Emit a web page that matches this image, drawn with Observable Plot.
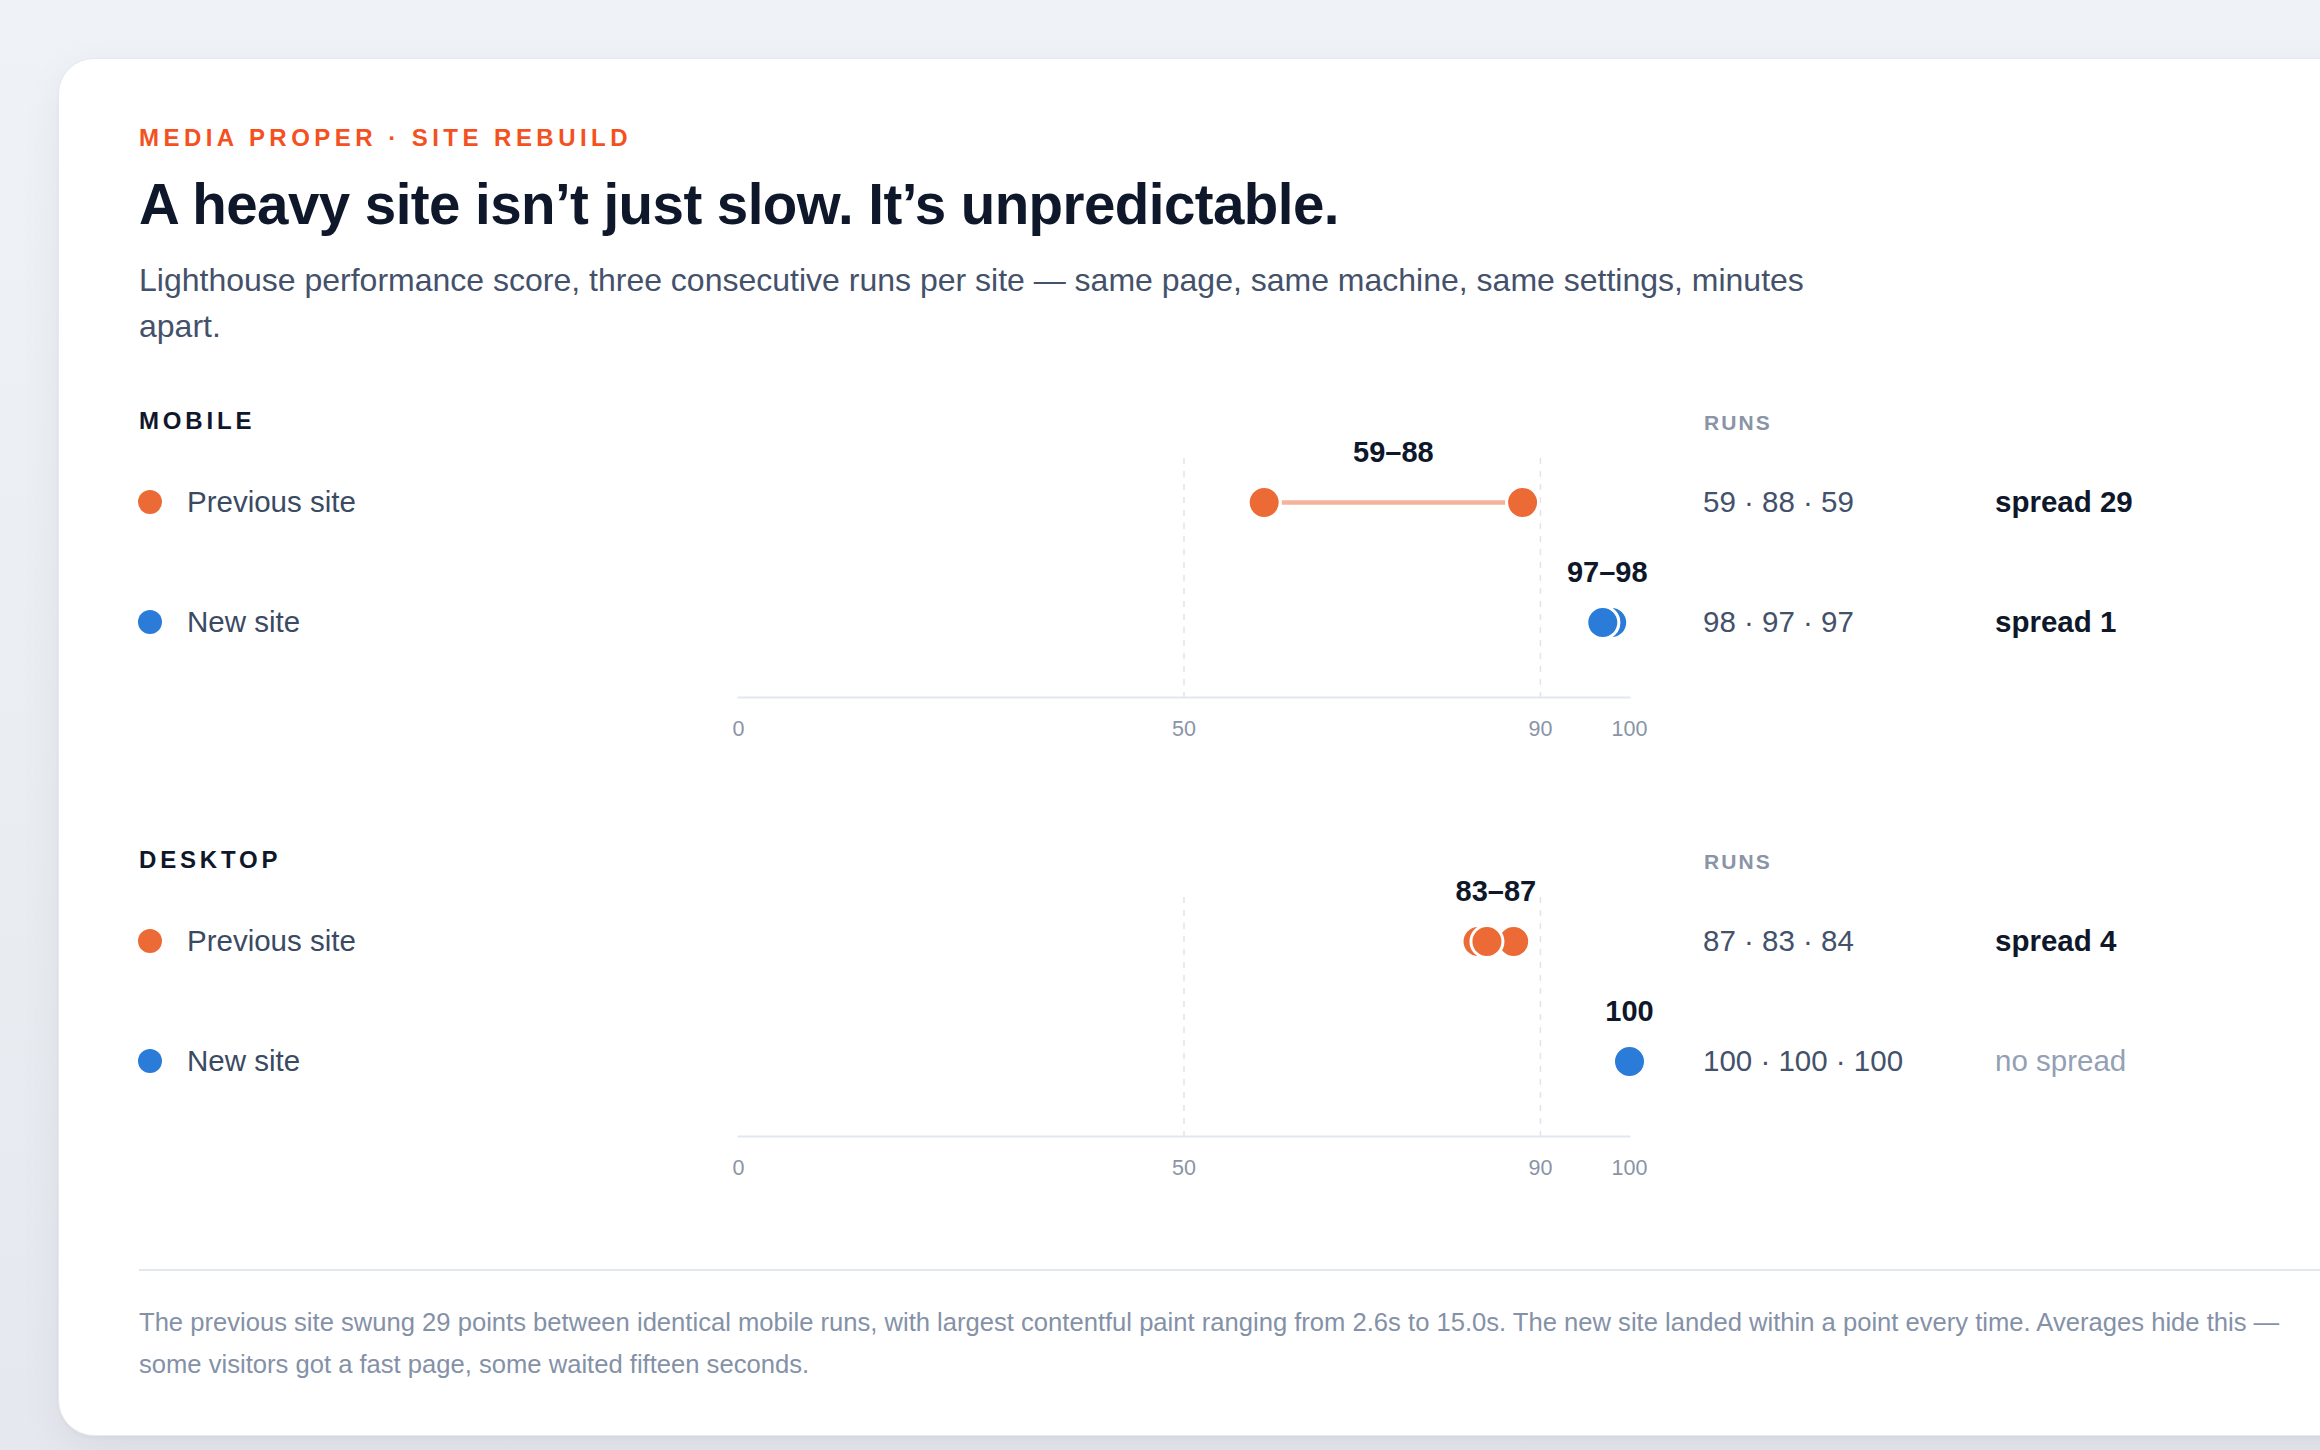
<!DOCTYPE html>
<html>
<head>
<meta charset="utf-8">
<script src="https://cdn.jsdelivr.net/npm/d3@7"></script>
<script src="https://cdn.jsdelivr.net/npm/@observablehq/plot@0.6"></script>
<style>
  html, body { margin: 0; padding: 0; }
  body {
    width: 2320px; height: 1450px; overflow: hidden; position: relative;
    background: linear-gradient(180deg, #eff2f6 0%, #e5e8ee 100%);
    font-family: "Helvetica Neue", Helvetica, Arial, "Liberation Sans", sans-serif;
  }
  .card {
    position: absolute; left: 58px; top: 58px; width: 2400px; height: 1376px;
    background: #fff; border-radius: 36px;
    border: 1px solid #e6eaf0;
    box-shadow: 0 2px 4px rgba(15,23,42,0.03), 0 14px 44px rgba(15,23,42,0.06);
  }
  .abs { position: absolute; line-height: 1; white-space: nowrap; }
  .eyebrow { left: 80px; top: 67px; font-size: 24px; font-weight: 700; letter-spacing: 0.186em; color: #f4511e; }
  .title { left: 80px; top: 118px; font-size: 56.5px; font-weight: 700; letter-spacing: -0.01em; color: #0f172a; }
  .sub { position: absolute; left: 80px; top: 198px; width: 1700px; font-size: 32px; line-height: 46px; color: #44516a; }
  .sectlabel { font-size: 24px; font-weight: 700; letter-spacing: 0.16em; color: #0f172a; }
  .runshead { font-size: 21px; font-weight: 700; letter-spacing: 0.1em; color: #8a94a6; }
  .legdot { position: absolute; width: 24px; height: 24px; border-radius: 50%; }
  .leglabel { font-size: 29.5px; color: #3b4a63; }
  .runs { font-size: 29.5px; color: #44516a; }
  .spread { font-size: 29.5px; font-weight: 700; color: #0f172a; }
  .spread.none { font-weight: 400; color: #94a0b4; }
  .plot { position: absolute; left: 80px; }
  .divider { position: absolute; left: 80px; top: 1210px; width: 2320px; height: 2px; background: #e3e8ef; }
  .caption { position: absolute; left: 80px; top: 1242px; width: 2200px; font-size: 25.6px; line-height: 42px; color: #8491a7; }
</style>
</head>
<body>
<div class="card" id="card">
  <div class="abs eyebrow">MEDIA PROPER · SITE REBUILD</div>
  <div class="abs title">A heavy site isn’t just slow. It’s unpredictable.</div>
  <div class="sub">Lighthouse performance score, three consecutive runs per site — same page, same machine, same settings, minutes apart.</div>
  <div class="divider"></div>
  <div class="caption">The previous site swung 29 points between identical mobile runs, with largest contentful paint ranging from 2.6s to 15.0s. The new site landed within a point every time. Averages hide this — some visitors got a fast page, some waited fifteen seconds.</div>
</div>
<script>
// ---- data ----
const sectionNames = ["MOBILE", "DESKTOP"];
const sites = ["Previous site", "New site"];
const siteColors = ["#ec6a35", "#2b7bd9"];
const mobilePrevious = [59, 88, 59];
const mobileNew = [98, 97, 97];
const desktopPrevious = [87, 83, 84];
const desktopNew = [100, 100, 100];
const tickValues = [0, 50, 90, 100];
const gridValues = [50, 90];
const runsHeader = "RUNS";

const sectionRuns = [
  [mobilePrevious, mobileNew],
  [desktopPrevious, desktopNew]
];

const card = document.getElementById("card");
const font = '"Helvetica Neue", Helvetica, Arial, "Liberation Sans", sans-serif';

function el(cls, text, left, top) {
  const d = document.createElement("div");
  d.className = cls;
  d.textContent = text;
  d.style.left = left + "px";
  d.style.top = top + "px";
  card.appendChild(d);
  return d;
}

sectionNames.forEach((name, si) => {
  const off = si * 439;            // vertical offset of section within card
  const rowY = [443 + off, 563 + off]; // row centres (card coords)
  el("abs sectlabel", name, 80, 350 + off);
  el("abs runshead", runsHeader, 1645, 353 + off);

  const rows = sites.map((site, i) => {
    const vals = sectionRuns[si][i];
    const min = d3.min(vals), max = d3.max(vals);
    return {
      site, min, max,
      label: min === max ? String(min) : `${min}–${max}`,
      runs: vals.join(" · "),
      spread: max - min
    };
  });

  rows.forEach((r, i) => {
    const dot = document.createElement("div");
    dot.className = "legdot";
    dot.style.background = siteColors[i];
    dot.style.left = (91 - 12) + "px";
    dot.style.top = (rowY[i] - 12) + "px";
    card.appendChild(dot);
    el("abs leglabel", r.site, 128, rowY[i] - 15);
    el("abs runs", r.runs, 1644, rowY[i] - 15);
    el("abs spread" + (r.spread === 0 ? " none" : ""), r.spread === 0 ? "no spread" : `spread ${r.spread}`, 1936, rowY[i] - 15);
  });

  const runs = [];
  sites.forEach((site, i) => sectionRuns[si][i].forEach((v, k) => runs.push({site, value: v, run: k})));

  const plot = Plot.plot({
    width: 1560,
    height: 350,
    marginLeft: 599,
    marginRight: 70,
    marginTop: 57,
    marginBottom: 54,
    style: {fontFamily: font, overflow: "visible", background: "transparent"},
    x: {domain: [0, 100]},
    y: {type: "point", domain: sites, range: [101, 221], padding: 0, axis: null},
    color: {domain: sites, range: siteColors},
    marks: [
      Plot.ruleX(gridValues, {stroke: "#dfe4ec", strokeWidth: 1.5, strokeDasharray: "6,7"}),
      Plot.frame({anchor: "bottom", stroke: "#e2e7ef", strokeWidth: 2}),
      Plot.axisX(tickValues, {tickSize: 0, tickPadding: 23, fontSize: 21.5, fill: "#8a94a6", label: null}),
      Plot.link(rows, {x1: "min", x2: "max", y1: "site", y2: "site", stroke: "site", strokeOpacity: 0.5, strokeWidth: 4.5}),
      Plot.dot(runs, {x: "value", y: "site", r: 16, fill: "site", stroke: "white", strokeWidth: 3}),
      Plot.text(rows, {x: d => (d.min + d.max) / 2, y: "site", dy: -50, text: "label", fontSize: 29, fontWeight: 700, fill: "#0f172a"})
    ]
  });
  plot.classList.add("plot");
  plot.style.top = (342 + off) + "px";
  card.appendChild(plot);
});
</script>
</body>
</html>
